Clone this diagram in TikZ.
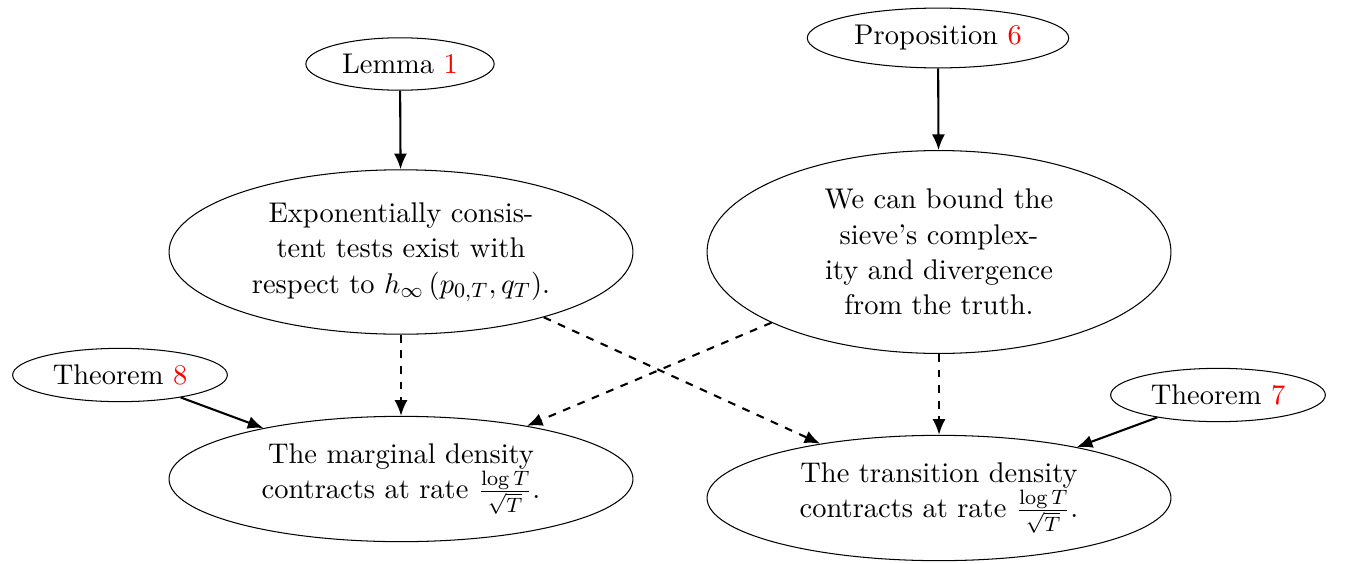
\documentclass[tikz,border=0pt]{standalone}
\usetikzlibrary{arrows.meta,shapes.geometric}
\begin{document}
\begin{tikzpicture}[x={(0.3846pt,0)},y={(0,-0.3846pt)},
  every node/.style={font=\fontsize{10.95}{13.6}\selectfont},
  bubble/.style={draw,ellipse,text width=4.2cm,align=center,inner sep=3.33pt},
  small/.style={draw,ellipse,inner sep=3.33pt},
  solid arrow/.style={thick,-{Latex[length=6pt,width=5pt]}},
  dash arrow/.style={thick,dashed,-{Latex[length=6pt,width=5pt]}}]
\useasboundingbox (0,0) rectangle (1345,563);
\node[small] (L1) at (400,64) {Lemma \textcolor{red}{1}};
\node[small] (P6) at (938,38) {Proposition \textcolor{red}{6}};
\node[bubble] (E) at (401,252) {Exponentially consis-\\tent tests exist with\\respect to $h_\infty\left(p_{0,T}, q_T\right)$.};
\node[bubble] (S) at (939,252) {We can bound the\\sieve's complex-\\ity and divergence\\from the truth.};
\node[small] (T8) at (120,375) {Theorem \textcolor{red}{8}};
\node[bubble] (M) at (401,479) {The marginal density\\contracts at rate $\frac{\log T}{\sqrt{T}}$.};
\node[small] (T7) at (1218,395) {Theorem \textcolor{red}{7}};
\node[bubble] (Tr) at (939,498) {The transition density\\contracts at rate $\frac{\log T}{\sqrt{T}}$.};
\draw[solid arrow] (L1) -- (E);
\draw[solid arrow] (P6) -- (S);
\draw[dash arrow] (E) -- (M);
\draw[dash arrow] (S) -- (Tr);
\draw[dash arrow] (E) -- (Tr);
\draw[dash arrow] (S) -- (M);
\draw[solid arrow] (T8) -- (M);
\draw[solid arrow] (T7) -- (Tr);
\end{tikzpicture}
\end{document}
